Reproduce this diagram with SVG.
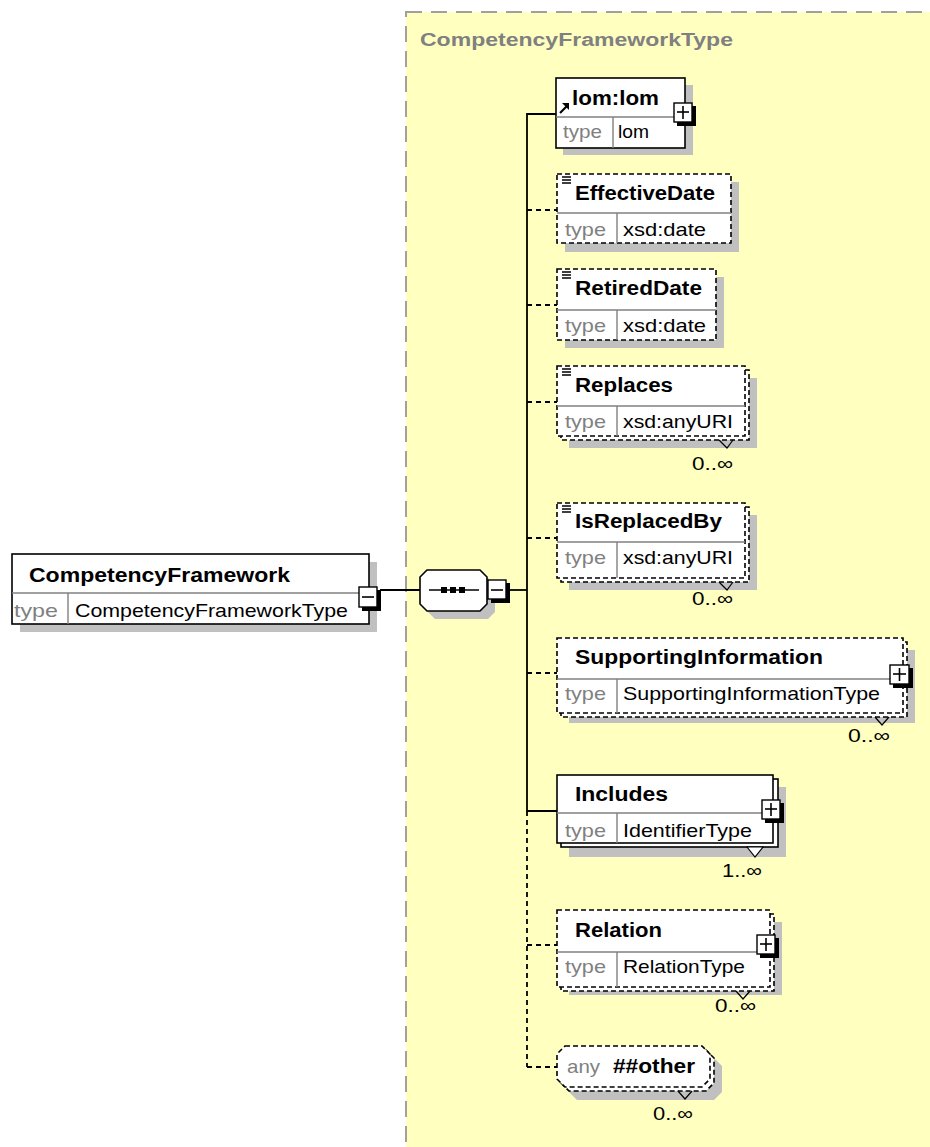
<svg xmlns="http://www.w3.org/2000/svg" width="930" height="1147" viewBox="0 0 930 1147">
<style>
.name{font-family:"Liberation Sans",Arial,sans-serif;font-weight:bold;font-size:20px;fill:#000}
.title{font-family:"Liberation Sans",Arial,sans-serif;font-weight:bold;font-size:18px;fill:#808080}
.lbl{font-family:"Liberation Sans",Arial,sans-serif;font-size:19px;fill:#808080}
.val{font-family:"Liberation Sans",Arial,sans-serif;font-size:19px;fill:#000}
.box{fill:#fff;stroke:#000;stroke-width:1.6}
.dbox{fill:#fff;stroke:#000;stroke-width:1.6;stroke-dasharray:5 3}
.shadow{fill:#c0c0c0}
.sep{stroke:#808080;stroke-width:1.4}
.conn{stroke:#000;stroke-width:1.8;fill:none}
.dconn{stroke:#000;stroke-width:1.8;fill:none;stroke-dasharray:5 4}
.tail{stroke:#000;stroke-width:1.2;fill:none}
.btnsh{fill:#000}
.btn{fill:#fff;stroke:#000;stroke-width:1.4}
.sym{stroke:#000;stroke-width:1.6}
.icon{stroke:#000;stroke-width:1.5;fill:none}
</style>
<rect x="0" y="0" width="930" height="1147" fill="#fff"/>
<g id="type-region">
<rect x="406" y="12" width="540" height="1150" fill="#ffffc0" stroke="#a0a0a0" stroke-width="2" stroke-dasharray="16 9"/>
<text class="title" x="420" y="46" textLength="313" lengthAdjust="spacingAndGlyphs">CompetencyFrameworkType</text>
</g>
<g id="connectors">
<line class="conn" x1="380" y1="590" x2="420" y2="590"/>
<line class="conn" x1="507" y1="590" x2="527" y2="590"/>
<polyline class="conn" points="556,114 527,114 527,811 557,811"/>
<line class="dconn" x1="527" y1="811" x2="527" y2="1067"/>
<line class="dconn" x1="527" y1="210" x2="557" y2="210"/>
<line class="dconn" x1="527" y1="305" x2="557" y2="305"/>
<line class="dconn" x1="527" y1="402" x2="557" y2="402"/>
<line class="dconn" x1="527" y1="538" x2="557" y2="538"/>
<line class="dconn" x1="527" y1="673" x2="557" y2="673"/>
<line class="dconn" x1="527" y1="945" x2="557" y2="945"/>
<line class="dconn" x1="527" y1="1067" x2="557" y2="1067"/>
</g>
<g id="CompetencyFramework">
<rect class="shadow" x="20" y="562" width="357" height="70"/>
<rect class="box" x="12" y="554" width="357" height="70"/>
<line class="sep" x1="12" y1="593" x2="369" y2="593"/>
<line class="sep" x1="68" y1="593" x2="68" y2="624"/>
<text class="name" x="29" y="582" textLength="261" lengthAdjust="spacingAndGlyphs">CompetencyFramework</text>
<text class="lbl" x="14" y="617" textLength="44" lengthAdjust="spacingAndGlyphs">type</text>
<text class="val" x="75" y="617" textLength="273" lengthAdjust="spacingAndGlyphs">CompetencyFrameworkType</text>
<rect class="btnsh" x="362" y="590" width="19" height="21"/>
<rect class="btn" x="359" y="587" width="18" height="20"/>
<line class="sym" x1="362" y1="597" x2="374" y2="597"/>
</g>
<g id="sequence">
<polygon class="shadow" points="435,578 488,578 495,585 495,612 488,619 435,619 428,612 428,585"/>
<polygon class="box" points="427,570 480,570 487,577 487,604 480,611 427,611 420,604 420,577"/>
<line class="sym" x1="429" y1="590" x2="479" y2="590"/>
<rect x="441" y="587" width="6" height="6" fill="#000"/>
<rect x="450" y="587" width="6" height="6" fill="#000"/>
<rect x="459" y="587" width="6" height="6" fill="#000"/>
<rect class="btnsh" x="491" y="583" width="19" height="20"/>
<rect class="btn" x="488" y="580" width="18" height="19"/>
<line class="sym" x1="491" y1="590" x2="503" y2="590"/>
</g>
<g id="lom">
<rect class="shadow" x="563" y="85" width="130" height="70"/>
<rect class="box" x="556" y="78" width="129" height="70"/>
<line class="sep" x1="556" y1="117" x2="685" y2="117"/>
<line class="sep" x1="613" y1="117" x2="613" y2="148"/>
<line x1="560" y1="113" x2="567" y2="106" stroke="#000" stroke-width="2.2"/>
<polygon points="569,103 569,110 562,103" fill="#000"/>
<text class="name" x="572" y="105" textLength="87" lengthAdjust="spacingAndGlyphs">lom:lom</text>
<text class="lbl" x="563" y="138" textLength="39" lengthAdjust="spacingAndGlyphs">type</text>
<text class="val" x="618" y="138" textLength="31" lengthAdjust="spacingAndGlyphs">lom</text>
<rect class="btnsh" x="677" y="106" width="19" height="20"/>
<rect class="btn" x="674" y="103" width="18" height="19"/>
<line class="sym" x1="677" y1="112" x2="689" y2="112"/>
<line class="sym" x1="683" y1="106" x2="683" y2="119"/>
</g>
<g id="EffectiveDate">
<rect class="shadow" x="565" y="182" width="174" height="70"/>
<rect class="dbox" x="557" y="174" width="174" height="69"/>
<line class="sep" x1="557" y1="213" x2="731" y2="213"/>
<line class="sep" x1="617" y1="213" x2="617" y2="243"/>
<path class="icon" d="M562 177h9M562 180h9M562 183h9"/>
<text class="name" x="575" y="200" textLength="140" lengthAdjust="spacingAndGlyphs">EffectiveDate</text>
<text class="lbl" x="565" y="236" textLength="41" lengthAdjust="spacingAndGlyphs">type</text>
<text class="val" x="623" y="236" textLength="83" lengthAdjust="spacingAndGlyphs">xsd:date</text>
</g>
<g id="RetiredDate">
<rect class="shadow" x="565" y="277" width="159" height="71"/>
<rect class="dbox" x="557" y="269" width="159" height="71"/>
<line class="sep" x1="557" y1="310" x2="716" y2="310"/>
<line class="sep" x1="617" y1="310" x2="617" y2="340"/>
<path class="icon" d="M562 272h9M562 275h9M562 278h9"/>
<text class="name" x="575" y="295" textLength="127" lengthAdjust="spacingAndGlyphs">RetiredDate</text>
<text class="lbl" x="565" y="332" textLength="41" lengthAdjust="spacingAndGlyphs">type</text>
<text class="val" x="623" y="332" textLength="83" lengthAdjust="spacingAndGlyphs">xsd:date</text>
</g>
<g id="Replaces">
<rect class="shadow" x="569" y="378" width="188" height="70"/>
<rect class="dbox" x="561" y="370" width="188" height="70"/>
<rect class="dbox" x="557" y="366" width="188" height="70"/>
<line class="sep" x1="557" y1="406" x2="745" y2="406"/>
<line class="sep" x1="617" y1="406" x2="617" y2="436"/>
<path class="icon" d="M562 369h9M562 372h9M562 375h9"/>
<text class="name" x="575" y="392" textLength="98" lengthAdjust="spacingAndGlyphs">Replaces</text>
<text class="lbl" x="565" y="428" textLength="41" lengthAdjust="spacingAndGlyphs">type</text>
<text class="val" x="623" y="428" textLength="110" lengthAdjust="spacingAndGlyphs">xsd:anyURI</text>
<polyline class="tail" points="719,440 727,448 733,440"/>
<text class="val" x="692" y="470" textLength="41" lengthAdjust="spacingAndGlyphs">0..∞</text>
</g>
<g id="IsReplacedBy">
<rect class="shadow" x="569" y="515" width="188" height="75"/>
<rect class="dbox" x="561" y="507" width="188" height="75"/>
<rect class="dbox" x="557" y="503" width="188" height="75"/>
<line class="sep" x1="557" y1="542" x2="745" y2="542"/>
<line class="sep" x1="617" y1="542" x2="617" y2="578"/>
<path class="icon" d="M562 506h9M562 509h9M562 512h9"/>
<text class="name" x="575" y="528" textLength="147" lengthAdjust="spacingAndGlyphs">IsReplacedBy</text>
<text class="lbl" x="565" y="564" textLength="41" lengthAdjust="spacingAndGlyphs">type</text>
<text class="val" x="623" y="564" textLength="110" lengthAdjust="spacingAndGlyphs">xsd:anyURI</text>
<polyline class="tail" points="719,582 727,590 733,582"/>
<text class="val" x="692" y="605" textLength="41" lengthAdjust="spacingAndGlyphs">0..∞</text>
</g>
<g id="SupportingInformation">
<rect class="shadow" x="569" y="650" width="346" height="73"/>
<rect class="dbox" x="561" y="642" width="346" height="75"/>
<rect class="dbox" x="557" y="638" width="346" height="75"/>
<line class="sep" x1="557" y1="679" x2="903" y2="679"/>
<line class="sep" x1="617" y1="679" x2="617" y2="713"/>
<text class="name" x="575" y="664" textLength="248" lengthAdjust="spacingAndGlyphs">SupportingInformation</text>
<text class="lbl" x="565" y="700" textLength="41" lengthAdjust="spacingAndGlyphs">type</text>
<text class="val" x="623" y="700" textLength="257" lengthAdjust="spacingAndGlyphs">SupportingInformationType</text>
<rect class="btnsh" x="893" y="668" width="20" height="20"/>
<rect class="btn" x="890" y="665" width="19" height="19"/>
<line class="sym" x1="893" y1="674" x2="906" y2="674"/>
<line class="sym" x1="899.5" y1="668" x2="899.5" y2="681"/>
<polyline class="tail" points="875,717 882,725 889,717"/>
<text class="val" x="848" y="742" textLength="42" lengthAdjust="spacingAndGlyphs">0..∞</text>
</g>
<g id="Includes">
<rect class="shadow" x="569" y="787" width="217" height="70"/>
<rect class="box" x="561" y="779" width="217" height="68"/>
<rect class="box" x="557" y="775" width="216" height="68"/>
<line class="sep" x1="557" y1="813" x2="773" y2="813"/>
<line class="sep" x1="617" y1="813" x2="617" y2="843"/>
<text class="name" x="575" y="801" textLength="93" lengthAdjust="spacingAndGlyphs">Includes</text>
<text class="lbl" x="565" y="837" textLength="41" lengthAdjust="spacingAndGlyphs">type</text>
<text class="val" x="623" y="837" textLength="129" lengthAdjust="spacingAndGlyphs">IdentifierType</text>
<rect class="btnsh" x="765" y="803" width="19" height="20"/>
<rect class="btn" x="762" y="800" width="18" height="19"/>
<line class="sym" x1="765" y1="809" x2="777" y2="809"/>
<line class="sym" x1="771" y1="803" x2="771" y2="816"/>
<polygon points="747,847 755,857 763,847" fill="#fff" stroke="#000" stroke-width="1.2"/>
<text class="val" x="722" y="877" textLength="40" lengthAdjust="spacingAndGlyphs">1..∞</text>
</g>
<g id="Relation">
<rect class="shadow" x="569" y="922" width="213" height="73"/>
<rect class="dbox" x="561" y="914" width="213" height="77"/>
<rect class="dbox" x="557" y="910" width="213" height="77"/>
<line class="sep" x1="557" y1="952" x2="770" y2="952"/>
<line class="sep" x1="617" y1="952" x2="617" y2="987"/>
<text class="name" x="575" y="937" textLength="87" lengthAdjust="spacingAndGlyphs">Relation</text>
<text class="lbl" x="565" y="973" textLength="41" lengthAdjust="spacingAndGlyphs">type</text>
<text class="val" x="623" y="973" textLength="122" lengthAdjust="spacingAndGlyphs">RelationType</text>
<rect class="btnsh" x="760" y="938" width="19" height="20"/>
<rect class="btn" x="757" y="935" width="18" height="19"/>
<line class="sym" x1="760" y1="944" x2="772" y2="944"/>
<line class="sym" x1="766" y1="938" x2="766" y2="951"/>
<polyline class="tail" points="736,991 743,999 750,991"/>
<text class="val" x="715" y="1012" textLength="41" lengthAdjust="spacingAndGlyphs">0..∞</text>
</g>
<g id="any-other">
<polygon class="shadow" points="577,1058 714,1058 722,1066 722,1092 714,1100 577,1100 569,1092 569,1066"/>
<polygon class="dbox" points="569,1050 706,1050 714,1058 714,1083 706,1091 569,1091 561,1083 561,1058"/>
<polygon class="dbox" points="565,1046 702,1046 710,1054 710,1079 702,1087 565,1087 557,1079 557,1054"/>
<text class="lbl" x="567" y="1073" textLength="33" lengthAdjust="spacingAndGlyphs">any</text>
<text class="name" x="613" y="1073" textLength="82" lengthAdjust="spacingAndGlyphs">##other</text>
<polyline class="tail" points="678,1091 685,1099 692,1091"/>
<text class="val" x="653" y="1120" textLength="40" lengthAdjust="spacingAndGlyphs">0..∞</text>
</g>
</svg>
